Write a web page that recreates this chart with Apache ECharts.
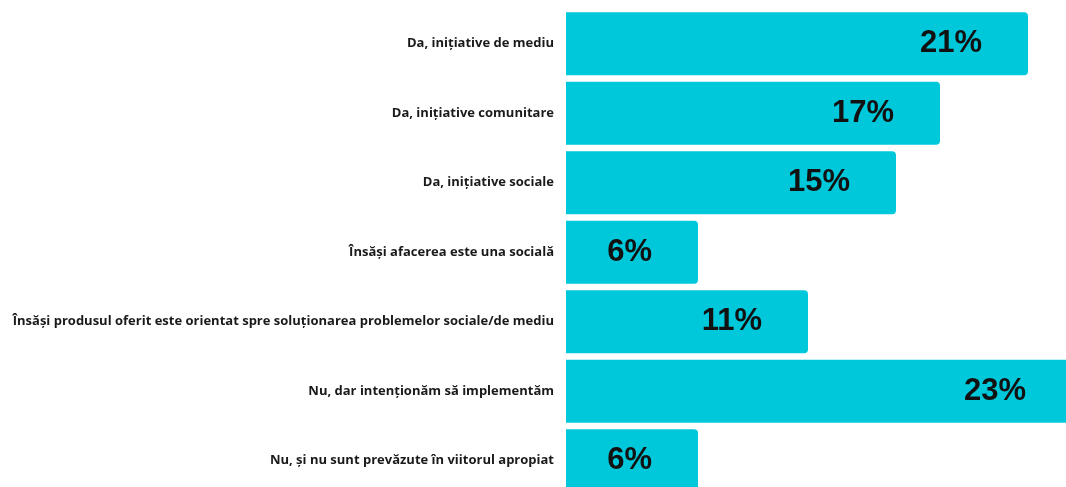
<!DOCTYPE html>
<html>
<head>
<meta charset="utf-8">
<style>
  html, body { margin: 0; padding: 0; background: #ffffff; overflow: hidden; }
  #chart { width: 1066px; height: 487px; }
</style>
<script src="https://cdn.jsdelivr.net/npm/echarts@6/dist/echarts.min.js"></script>
</head>
<body>
<div id="chart"></div>
<script>
// Survey answers, top to bottom
const categories = [
  'Da, inițiative de mediu',
  'Da, inițiative comunitare',
  'Da, inițiative sociale',
  'Însăși afacerea este una socială',
  'Însăși produsul oferit este orientat spre soluționarea problemelor sociale/de mediu',
  'Nu, dar intenționăm să implementăm',
  'Nu, și nu sunt prevăzute în viitorul apropiat'
];
// Share of respondents, percent
const values = [21, 17, 15, 6, 11, 23, 6];

const chart = echarts.init(document.getElementById('chart'), null, { renderer: 'canvas' });

chart.setOption({
  animation: false,
  backgroundColor: '#ffffff',
  // plot area runs slightly past the canvas edges, so the longest bar and last row are cut
  grid: {
    left: 566,
    top: 9,
    width: 506,
    height: 486.5,
    outerBoundsMode: 'none',
    containLabel: false
  },
  xAxis: {
    type: 'value',
    min: 0,
    max: 23,
    show: false
  },
  yAxis: {
    type: 'category',
    data: categories,
    inverse: true,
    axisLine: { show: false },
    axisTick: { show: false },
    splitLine: { show: false },
    axisLabel: {
      margin: 12,
      color: '#1a1a1a',
      fontFamily: 'Open Sans',
      fontWeight: 'bold',
      fontSize: 13
    }
  },
  series: [{
    type: 'bar',
    data: values,
    barWidth: 63,
    itemStyle: {
      color: '#00C8DB',
      borderRadius: [0, 4, 4, 0]
    },
    label: {
      show: true,
      position: 'insideRight',
      distance: 46,
      formatter: p => p.value + '%',
      color: '#111111',
      fontFamily: 'Liberation Sans',
      fontWeight: 'bold',
      fontSize: 31
    }
  }]
});
</script>
</body>
</html>
